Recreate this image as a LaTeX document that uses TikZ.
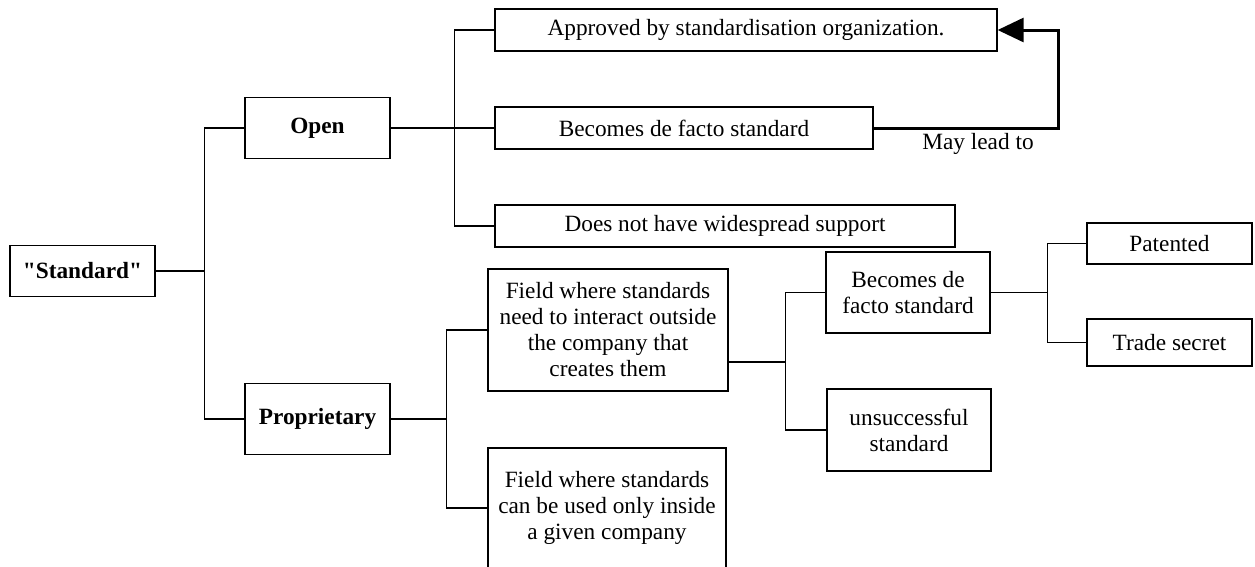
\documentclass[tikz,border=0pt]{standalone}
\usepackage{fontspec}
\setmainfont{Liberation Serif}
\usetikzlibrary{arrows.meta}
\begin{document}
\begin{tikzpicture}[x=1pt,y=-1pt,
  box/.style={draw,line width=1.3pt,rectangle,inner sep=0pt,align=center,
    font=\fontsize{23.3}{26}\selectfont},
  hdr/.style={box,font=\fontsize{23.3}{26}\selectfont\bfseries},
  conn/.style={line width=1.3pt},
  lead/.style={line width=3pt,-{Triangle[length=26pt,width=24pt]}}]
\useasboundingbox (0,0) rectangle (1255,566);
% nodes
\node[hdr,minimum width=145pt,minimum height=51pt] (std) at (82.5,271) {\textquotedbl Standard\textquotedbl};
\node[hdr,minimum width=145pt,minimum height=61pt] (open) at (317.5,128) {Open};
\node[hdr,minimum width=145pt,minimum height=71pt] (prop) at (317.5,419) {Proprietary};
\node[box,minimum width=502pt,minimum height=42pt] (appr) at (746,30) {Approved by standardisation organization.};
\node[box,minimum width=378pt,minimum height=42pt] (dfs1) at (684,128) {Becomes de facto standard};
\node[box,minimum width=460pt,minimum height=42pt] (wide) at (725,226) {Does not have widespread support};
\node[box,minimum width=240pt,minimum height=122pt] (f1) at (608,330) {Field where standards\\need to interact outside\\the company that\\creates them};
\node[box,minimum width=238pt,minimum height=120pt] (f2) at (607,508) {Field where standards\\can be used only inside\\a given company};
\node[box,minimum width=164pt,minimum height=81pt] (dfs2) at (908,292.5) {Becomes de\\facto standard};
\node[box,minimum width=164pt,minimum height=82pt] (uns) at (909,430) {unsuccessful\\standard};
\node[box,minimum width=165pt,minimum height=41pt] (pat) at (1169.5,243.5) {Patented};
\node[box,minimum width=165pt,minimum height=47pt] (sec) at (1169.5,342.5) {Trade secret};
\node[font=\fontsize{23.3}{26}\selectfont,inner sep=0pt] (may) at (978,144) {May lead to};
% connectors
\draw[conn] (std.east) -- ++(49,0) |- (open.west);
\draw[conn] (std.east) -- ++(49,0) |- (prop.west);
\draw[conn] (open.east) -- ++(64,0) |- (appr.west);
\draw[conn] (open.east) -- (dfs1.west);
\draw[conn] (open.east) -- ++(64,0) |- (wide.west);
\draw[conn] (prop.east) -- ++(56,0) |- (f1.west);
\draw[conn] (prop.east) -- ++(56,0) |- (f2.west);
\draw[conn] ([yshift=-32pt]f1.east) -- ++(57,0) |- (dfs2.west);
\draw[conn] ([yshift=-32pt]f1.east) -- ++(57,0) |- (uns.west);
\draw[conn] (dfs2.east) -- ++(57,0) |- (pat.west);
\draw[conn] (dfs2.east) -- ++(57,0) |- (sec.west);
\coordinate (turn) at (1058,128);
\draw[lead] (dfs1.east) -- (turn) |- (appr.east);
\end{tikzpicture}
\end{document}
